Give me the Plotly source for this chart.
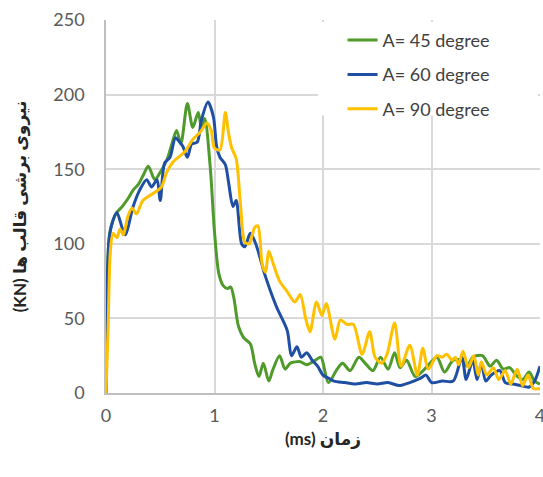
import plotly.graph_objects as go

# ---- data (time in ms, force in kN) ----
t_45 = [0, 0.03, 0.06, 0.1, 0.15, 0.2, 0.25, 0.3, 0.35, 0.39, 0.45, 0.5, 0.56, 0.6, 0.65, 0.69,
        0.75, 0.8, 0.85, 0.88, 0.91, 0.96, 1.0, 1.04, 1.08, 1.12, 1.15, 1.18, 1.22, 1.27, 1.33,
        1.37, 1.41, 1.45, 1.5, 1.54, 1.6, 1.65, 1.7, 1.79, 1.85, 1.93, 1.98, 2.05, 2.13, 2.18,
        2.25, 2.33, 2.4, 2.46, 2.53, 2.6, 2.66, 2.71, 2.77, 2.85, 2.95, 3.05, 3.12, 3.2, 3.28,
        3.33, 3.38, 3.47, 3.54, 3.6, 3.66, 3.72, 3.78, 3.84, 3.9, 3.95, 4.0]
v_45 = [0, 105, 115, 121, 125, 130, 136, 140, 147, 152, 143, 148, 156, 165, 176, 167,
        194, 178, 188, 178, 184, 152, 108, 80, 72, 70, 71, 63, 45, 37, 33,
        20, 11, 20, 8, 16, 25, 16, 20, 21, 19, 22, 24, 7, 16, 20,
        15, 24, 19, 15, 24, 16, 27, 17, 22, 11, 17, 24, 14, 22, 22,
        18, 24, 25, 18, 22, 16, 17, 12, 9, 14, 8, 6]

t_60 = [0, 0.025, 0.05, 0.1, 0.175, 0.25, 0.31, 0.375, 0.42, 0.47, 0.5, 0.54, 0.59, 0.64, 0.68,
        0.71, 0.75, 0.79, 0.84, 0.88, 0.94, 0.99, 1.02, 1.05, 1.1, 1.13, 1.17, 1.2, 1.25, 1.28,
        1.33, 1.38, 1.47, 1.57, 1.67, 1.71, 1.76, 1.8, 1.85, 1.9, 1.95, 2.0, 2.05, 2.1, 2.2,
        2.3, 2.4, 2.5, 2.6, 2.7, 2.8, 2.9, 2.95, 3.0, 3.1, 3.2, 3.28, 3.32, 3.38, 3.42,
        3.46, 3.5, 3.55, 3.63, 3.68, 3.75, 3.82, 3.9, 3.95, 4.0]
v_60 = [0, 100, 112, 121, 106, 125, 136, 143, 138, 143, 129, 154, 158, 171, 168,
        165, 158, 167, 168, 183, 195, 185, 165, 158, 153, 141, 125, 129, 100, 98,
        107, 100, 78, 58, 42, 25, 31, 24, 27, 22, 18, 12, 10, 8, 7,
        6, 7, 6, 7, 5, 7, 10, 12, 7, 8, 8, 24, 9, 22, 9,
        20, 8, 12, 15, 7, 6, 5, 4, 8, 18]

t_90 = [0, 0.02, 0.04, 0.065, 0.1, 0.13, 0.16, 0.2, 0.24, 0.28, 0.34, 0.44, 0.51, 0.56, 0.62,
        0.73, 0.8, 0.87, 0.93, 0.97, 1.0, 1.05, 1.1, 1.13, 1.16, 1.2, 1.24, 1.28, 1.32, 1.37,
        1.4, 1.44, 1.47, 1.5, 1.54, 1.6, 1.67, 1.74, 1.79, 1.84, 1.88, 1.94, 1.99, 2.03, 2.11,
        2.16, 2.22, 2.28, 2.36, 2.43, 2.48, 2.54, 2.59, 2.66, 2.72, 2.8, 2.87, 2.92, 2.97, 3.05,
        3.1, 3.14, 3.19, 3.22, 3.25, 3.29, 3.34, 3.39, 3.43, 3.46, 3.51, 3.57, 3.62, 3.68,
        3.73, 3.79, 3.84, 3.89, 3.94, 4.0]
v_90 = [0, 45, 95, 107, 104, 110, 106, 118, 124, 120, 129, 134, 138, 148, 155,
        162, 170, 175, 181, 176, 164, 163, 188, 174, 164, 157, 126, 101, 100, 111,
        112, 86, 81, 95, 87, 75, 68, 61, 66, 50, 41, 61, 52, 60, 36,
        49, 46, 46, 26, 41, 24, 20, 26, 47, 18, 32, 12, 30, 16, 25,
        24, 26, 22, 24, 19, 28, 17, 25, 12, 21, 12, 17, 9, 15,
        6, 16, 5, 12, 3, 3]

series_names = ["A= 45 degree", "A= 60 degree", "A= 90 degree"]
series_colors = ["#4E9A2A", "#1F4FA3", "#FFC000"]
x_ticks = [0, 1, 2, 3, 4]
y_ticks = [0, 50, 100, 150, 200, 250]
x_title = "(ms) زمان"
y_title = "(KN) نیروی برشی قالب ها"

fig = go.Figure()
for i, (t, v) in enumerate([(t_45, v_45), (t_60, v_60), (t_90, v_90)]):
    fig.add_trace(go.Scatter(
        x=t, y=v, mode="lines", name=series_names[i], legendgroup=f"g{i}",
        line=dict(color=series_colors[i], width=3, shape="spline", smoothing=0.8),
    ))

# white legend box background (covers gridlines like the original)
fig.add_shape(type="rect", xref="x", yref="y", x0=1.955, x1=3.98, y0=186, y1=248.7,
              fillcolor="white", line=dict(width=0), layer="above")

font_fam = "Lato, 'DejaVu Sans', sans-serif"
fig.update_layout(
    width=543, height=477,
    margin=dict(l=106, r=3, t=20, b=84, autoexpand=False),
    paper_bgcolor="white", plot_bgcolor="white",
    font=dict(family=font_fam, size=18, color="#595959"),
    showlegend=True,
    legend=dict(
        x=0.545, y=0.995, xanchor="left", yanchor="top",
        bgcolor="rgba(0,0,0,0)", borderwidth=0,
        font=dict(family=font_fam, size=18, color="#404040"),
        tracegroupgap=8, traceorder="grouped",
    ),
    xaxis=dict(
        range=[0, 4], tickvals=x_ticks, ticks="", showgrid=True,
        gridcolor="#D9D9D9", gridwidth=1.5, zeroline=False,
        showline=True, linecolor="#BFBFBF", linewidth=1.5,
        ticklabelstandoff=6, ticklabeloverflow="allow", automargin=False,
        title=dict(text=x_title, font=dict(family=font_fam, size=17, color="#262626", weight="bold"), standoff=8),
    ),
    yaxis=dict(
        range=[0, 250], tickvals=y_ticks, ticks="", showgrid=True,
        gridcolor="#D9D9D9", gridwidth=1.5, zeroline=False,
        showline=True, linecolor="#BFBFBF", linewidth=1.5,
        ticklabelstandoff=16, automargin=False,
        title=dict(text=y_title, font=dict(family=font_fam, size=17, color="#262626", weight="bold"), standoff=22),
    ),
)

fig.write_html("out.html")
